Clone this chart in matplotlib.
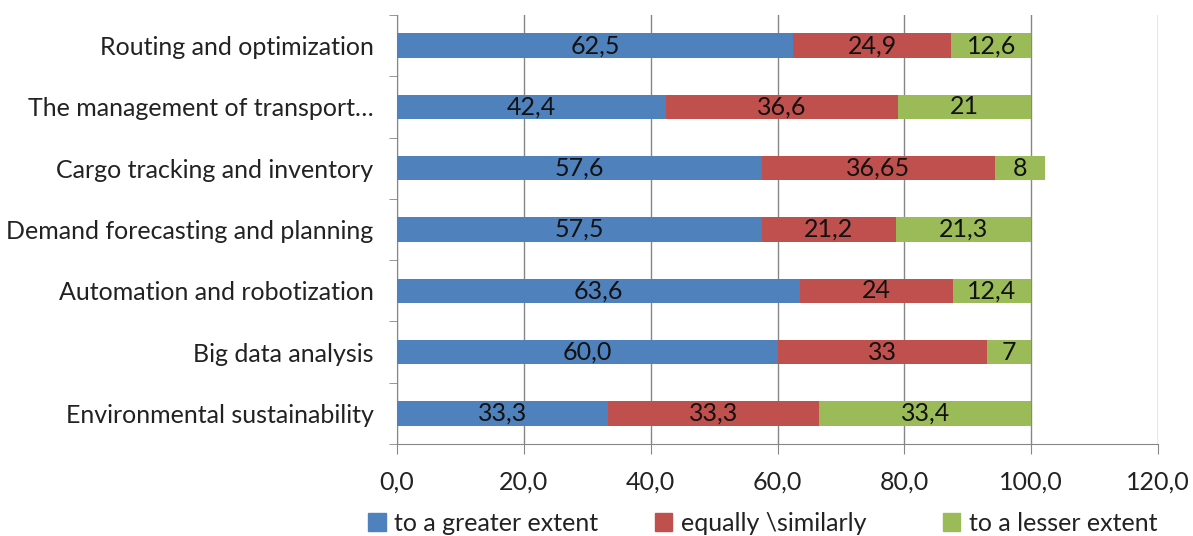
import numpy as np
import matplotlib.pyplot as plt
from matplotlib.patches import Patch

plt.rcParams["font.family"] = ["Lato", "DejaVu Sans"]

categories = [
    "Routing and optimization",
    "The management of transport\u2026",
    "Cargo tracking and inventory",
    "Demand forecasting and planning",
    "Automation and robotization",
    "Big data analysis",
    "Environmental sustainability",
]
greater = [62.5, 42.4, 57.6, 57.5, 63.6, 60.0, 33.3]
equal = [24.9, 36.6, 36.65, 21.2, 24.0, 33.0, 33.3]
lesser = [12.6, 21.0, 8.0, 21.3, 12.4, 7.0, 33.4]
# decimals shown in each data label
greater_dec = [1, 1, 1, 1, 1, 1, 1]
equal_dec = [1, 1, 2, 1, 0, 0, 1]
lesser_dec = [1, 0, 0, 1, 1, 0, 1]

series = [
    ("to a greater extent", greater, greater_dec, "#4F81BD"),
    ("equally \\similarly", equal, equal_dec, "#C0504D"),
    ("to a lesser extent", lesser, lesser_dec, "#9BBB59"),
]
xticks = [0, 20, 40, 60, 80, 100, 120]

fs = 18

fig = plt.figure(figsize=(11.93, 5.36), dpi=100)
ax = fig.add_axes([0.3328, 0.1716, 0.6379, 0.8004])

y = np.arange(len(categories))
left = np.zeros(len(categories))
for name, vals, decs, color in series:
    vals = np.array(vals)
    ax.barh(y, vals, left=left, height=0.4, color=color, label=name, zorder=3)
    for yi, (v, l, d) in enumerate(zip(vals, left, decs)):
        txt = f"{v:.{d}f}".replace(".", ",")
        ax.text(l + v / 2, yi, txt, ha="center", va="center",
                fontsize=fs, color="#111111", zorder=4)
    left += vals

ax.set_xlim(0, 120)
ax.set_ylim(len(categories) - 0.5, -0.5)
ax.set_xticks(xticks)
ax.set_xticklabels([f"{t:.1f}".replace(".", ",") for t in xticks], fontsize=fs)
ax.set_yticks(y)
ax.set_yticklabels(categories, fontsize=fs)
ax.set_yticks(np.arange(-0.5, len(categories), 1), minor=True)

ax.tick_params(axis="y", which="major", length=0, pad=17)
ax.tick_params(axis="y", which="minor", length=6, color="#868686")
ax.tick_params(axis="x", length=7, color="#868686", pad=12, labelcolor="#222222")
ax.tick_params(axis="y", labelcolor="#222222")
ax.grid(axis="x", color="#868686", linewidth=1, zorder=0)
for s in ["top", "right"]:
    ax.spines[s].set_visible(False)
for s in ["left", "bottom"]:
    ax.spines[s].set_color("#868686")

# legend entries are spaced evenly along the bottom
legend_x = [0.3085, 0.549, 0.7904]
for (name, _, _, color), lx in zip(series, legend_x):
    fig.legend(handles=[Patch(color=color, label=name)], loc="center left",
               bbox_to_anchor=(lx, 0.024), frameon=False, fontsize=fs,
               handlelength=0.7, handleheight=0.7, handletextpad=0.35,
               borderpad=0, borderaxespad=0, labelcolor="#222222")

fig.savefig("out.png", dpi=100)
